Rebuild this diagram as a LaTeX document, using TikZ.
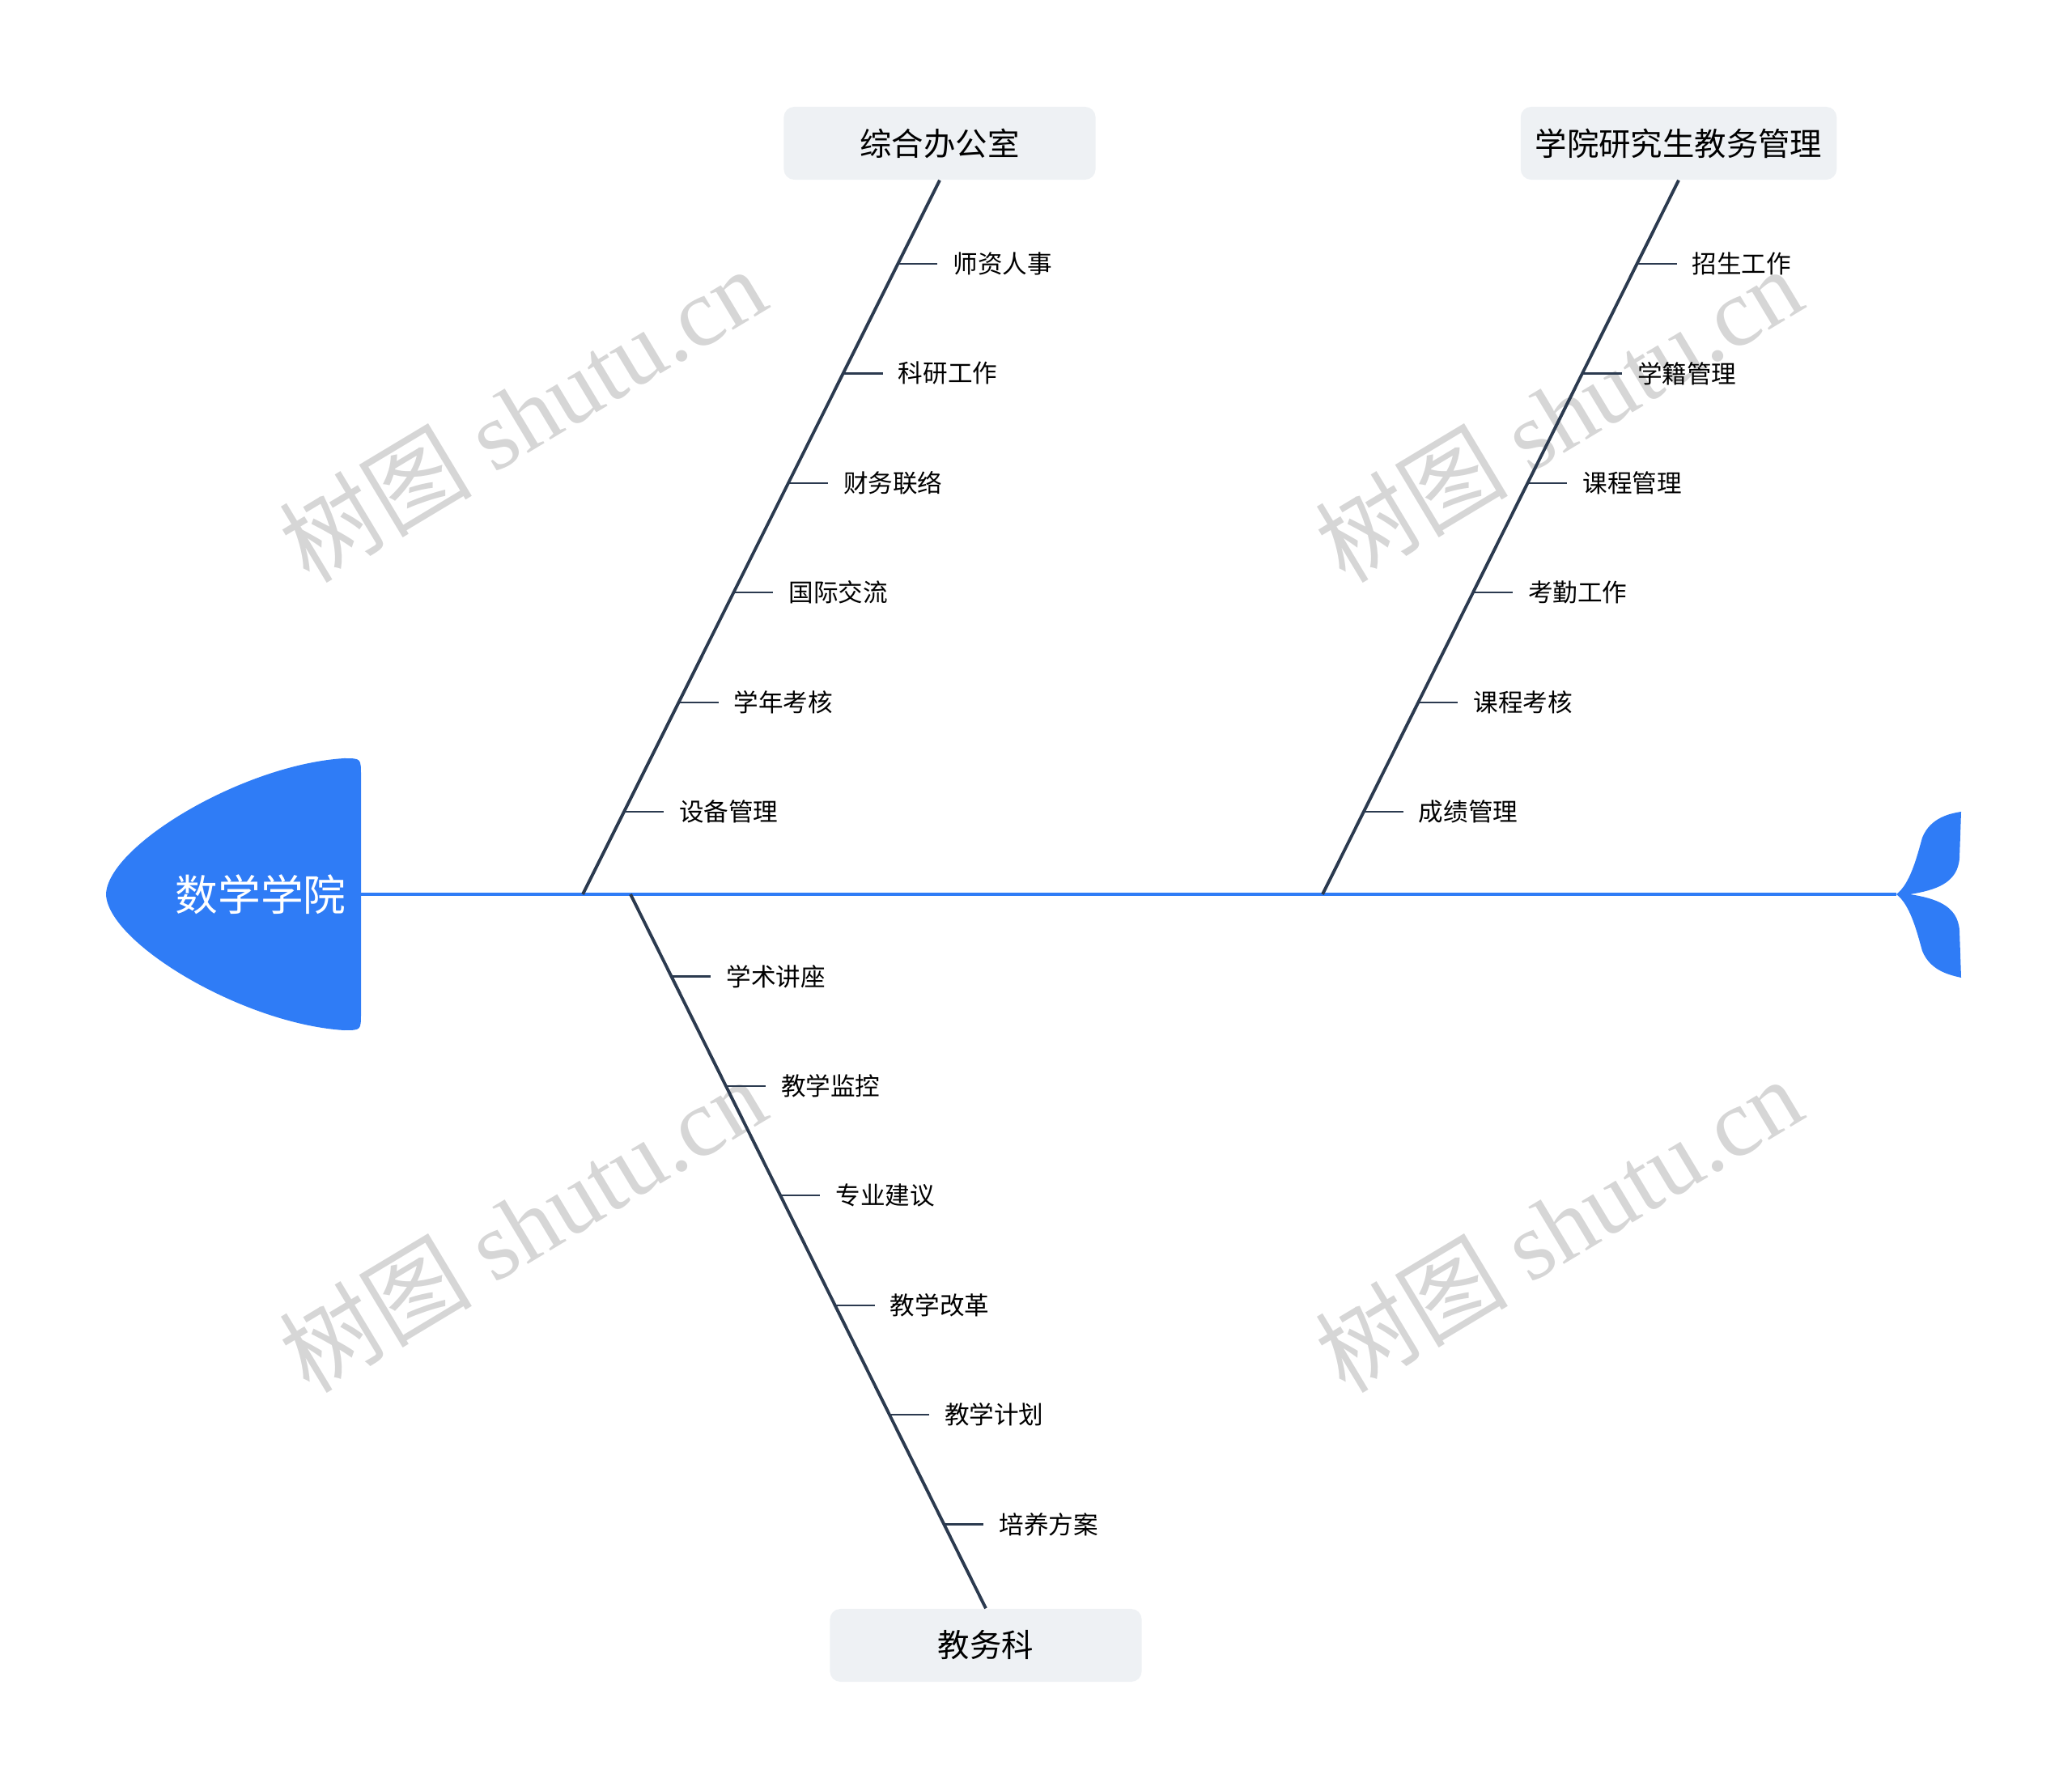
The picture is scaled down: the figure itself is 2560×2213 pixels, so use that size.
\documentclass[tikz,border=0pt]{standalone}
\usepackage{fontspec}
\setmainfont{Noto Sans CJK SC}
\newfontfamily\wmserif{Liberation Serif}
\definecolor{fishblue}{HTML}{2F7CF6}
\definecolor{bone}{HTML}{2B3A4F}
\definecolor{boxgray}{HTML}{EEF1F4}
\definecolor{wmgray}{HTML}{D6D6D6}
\tikzset{
  catbox/.style={fill=boxgray, rounded corners=0.13cm, minimum width=3.85cm, minimum height=0.9cm, inner xsep=0.18cm, font=\fontsize{11.2}{13}\selectfont},
  item/.style={anchor=west, inner xsep=0.18cm, font=\fontsize{8.7}{10}\selectfont},
  bonel/.style={draw=bone, line width=1.1pt},
  tickl/.style={draw=bone, line width=0.65pt},
  wmark/.style={text=wmgray, rotate=31, font=\fontsize{34}{38}\selectfont}
}
\begin{document}
\begin{tikzpicture}[x=0.01cm,y=-0.01cm]
    \useasboundingbox (0,0) rectangle (2560,2213);
    \foreach \wx/\wy [count=\w] in {645/512, 1925/512, 645/1513, 1925/1513}
        \node[wmark] (wm\w) at (\wx,\wy) {树图 {\wmserif shutu.cn}};

    \fill[fishblue] (131,1105) .. controls (133,1045) and (300,945) .. (425,937)
        .. controls (446,937) .. (446,958) -- (446,1252)
        .. controls (446,1273) .. (425,1273)
        .. controls (300,1265) and (133,1165) .. (131,1105) -- cycle;
    \node[text=white, font=\fontsize{15}{18}\selectfont] (head) at (322,1105) {数学学院};

    \coordinate (J) at (2343,1105);
    \fill[fishblue] (J) .. controls (2360,1092) and (2368,1060) .. (2375,1035)
        .. controls (2385,1010) and (2410,1005) .. (2423,1003) -- (2421,1060)
        .. controls (2419,1092) and (2390,1100) .. (2360,1105)
        .. controls (2390,1110) and (2419,1118) .. (2421,1150) -- (2423,1208)
        .. controls (2410,1205) and (2385,1200) .. (2375,1175)
        .. controls (2368,1150) and (2360,1118) .. (J) -- cycle;
    \draw[fishblue, line width=1.15pt] (446,1105) -- (J);

    \node[catbox] (zh) at (1161,177) {综合办公室};
    \node[catbox] (yj) at (2074,177) {学院研究生教务管理};
    \node[catbox] (jw) at (1218,2033) {教务科};
    \coordinate (b1) at (720,1105);
    \coordinate (b2) at (1634,1105);
    \coordinate (b3) at (779,1105);
    \draw[bonel] (b1) -- (zh.south);
    \draw[bonel] (b2) -- (yj.south);
    \draw[bonel] (b3) -- (jw.north);

    \foreach \lbl [count=\i] in {师资人事, 科研工作, 财务联络, 国际交流, 学年考核, 设备管理} {
        \path (b1) -- (zh.south) coordinate[pos={0.883-0.1535*(\i-1)}] (zh-\i);
        \draw[tickl] (zh-\i) -- ++(49,0) node[item] (zh-\i-t) {\lbl};
    }
    \foreach \lbl [count=\i] in {招生工作, 学籍管理, 课程管理, 考勤工作, 课程考核, 成绩管理} {
        \path (b2) -- (yj.south) coordinate[pos={0.883-0.1535*(\i-1)}] (yj-\i);
        \draw[tickl] (yj-\i) -- ++(49,0) node[item] (yj-\i-t) {\lbl};
    }
    \foreach \lbl [count=\i] in {学术讲座, 教学监控, 专业建议, 教学改革, 教学计划, 培养方案} {
        \path (b3) -- (jw.north) coordinate[pos={0.115+0.1535*(\i-1)}] (jw-\i);
        \draw[tickl] (jw-\i) -- ++(49,0) node[item] (jw-\i-t) {\lbl};
    }
\end{tikzpicture}
\end{document}
